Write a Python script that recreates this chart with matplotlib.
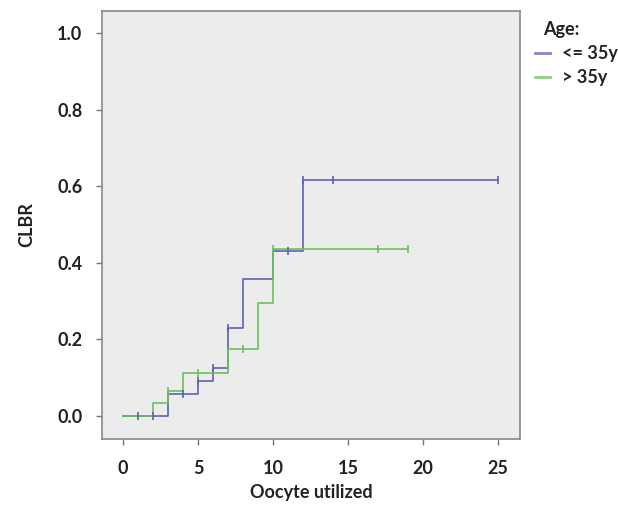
import matplotlib
matplotlib.use("Agg")
import matplotlib.pyplot as plt
from matplotlib.lines import Line2D

plt.rcParams['font.family'] = ['Lato', 'DejaVu Sans']
plt.rcParams['font.weight'] = 'bold'

# cumulative live birth rate, step curves (event time, CLBR after event)
young_t = [0, 3, 5, 6, 7, 8, 10, 12, 25]
young_y = [0.0, 0.057, 0.09, 0.125, 0.229, 0.357, 0.43, 0.616, 0.616]
young_cens_t = [1, 2, 4, 5, 6, 7, 11, 12, 14, 25]

old_t = [0, 2, 3, 4, 7, 9, 10, 19]
old_y = [0.0, 0.033, 0.066, 0.111, 0.174, 0.294, 0.435, 0.435]
old_cens_t = [3, 5, 8, 10, 17, 19]

group_labels = ['<= 35y', '> 35y']

blue = '#5b62b3'
green = '#6cbf5a'
ink = '#222222'


def value_at(ts, ys, t):
    v = ys[0]
    for ti, yi in zip(ts, ys):
        if ti <= t:
            v = yi
    return v


fig = plt.figure(figsize=(6.18, 5.05), dpi=100)
ax = fig.add_axes([0.165, 0.131, 0.677, 0.847])
ax.set_facecolor('#ececec')

ax.step(young_t, young_y, where='post', color=blue, lw=1.2)
ax.step(old_t, old_y, where='post', color=green, lw=1.2)

# censored cases
ax.plot(young_cens_t, [value_at(young_t, young_y, t) for t in young_cens_t],
        ls='none', marker='|', ms=6, mew=1.2, color=blue)
ax.plot(old_cens_t, [value_at(old_t, old_y, t) for t in old_cens_t],
        ls='none', marker='|', ms=6, mew=1.2, color=green)

ax.set_xlim(-1.4, 26.5)
ax.set_ylim(-0.06, 1.057)
ax.set_xticks([0, 5, 10, 15, 20, 25])
ax.set_yticks([0.0, 0.2, 0.4, 0.6, 0.8, 1.0])
ax.set_yticklabels(['0.0', '0.2', '0.4', '0.6', '0.8', '1.0'])
ax.tick_params(labelsize=13, colors='#777777', labelcolor=ink, length=4, width=1)
ax.tick_params(axis='y', pad=10)
ax.tick_params(axis='x', pad=11)
for s in ax.spines.values():
    s.set_color('#888888')
    s.set_linewidth(1.2)

ax.set_xlabel('Oocyte utilized', fontsize=13, fontweight='bold', labelpad=5, color=ink)
ax.set_ylabel('CLBR', fontsize=13, fontweight='bold', labelpad=16, color=ink)

# legend
fig.text(0.8786, 0.9406, 'Age:', fontsize=13, fontweight='bold',
         va='center', ha='left', color=ink)
for i, (lab, col) in enumerate(zip(group_labels, [blue, green])):
    yy = 0.895 - i * 0.0475
    fig.add_artist(Line2D([0.8657, 0.890], [yy, yy], color=col, lw=2,
                          alpha=0.75, transform=fig.transFigure))
    fig.text(0.9094, yy, lab, fontsize=13, fontweight='bold',
             va='center', ha='left', color=ink)

fig.savefig('out.png', dpi=100)
